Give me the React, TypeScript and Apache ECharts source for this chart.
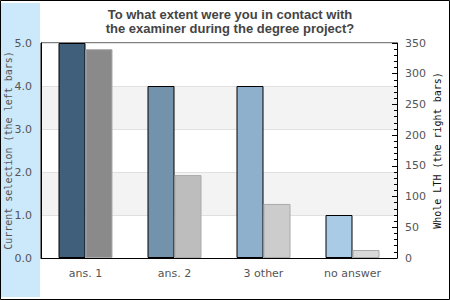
import React, { useEffect, useRef } from "react";
import * as echarts from "echarts";

const categories = ["ans. 1", "ans. 2", "3 other", "no answer"];
const currentValues = [5, 4, 4, 1];
const wholeValues = [340, 135, 88, 13];
const leftColors = ["#3f5f7a", "#7393ad", "#8fb0cc", "#a9cbe6"];
const rightColors = ["#8a8a8a", "#bdbdbd", "#cccccc", "#d9d9d9"];
const titleText = "To what extent were you in contact with\nthe examiner during the degree project?";
const leftAxisName = "Current selection (the left bars)";
const rightAxisName = "Whole LTH (the right bars)";

export default function App() {
  const ref = useRef<HTMLDivElement>(null);
  useEffect(() => {
    if (!ref.current) return;
    const chart = echarts.init(ref.current, null, { renderer: "svg" });
    const font = "DejaVu Sans";
    chart.setOption({
      animation: false,
      backgroundColor: "#ffffff",
      title: {
        text: titleText,
        left: 225,
        textAlign: "center",
        top: 2,
        textStyle: { fontFamily: "Liberation Sans", fontWeight: "bold", fontSize: 13, color: "#444", lineHeight: 14.5 },
      },
      graphic: [
        { type: "rect", shape: { x: 1, y: 3, width: 39, height: 294 }, style: { fill: "#cce8fb" }, z: -10 },
        { type: "rect", shape: { x: 0.5, y: 0.5, width: 449, height: 299 }, style: { fill: "none", stroke: "#000", lineWidth: 1 }, z: 100 },
      ],
      grid: {
        left: 41, right: 53, top: 43, bottom: 42,
        outerBoundsMode: "none", containLabel: false,
        show: true, borderColor: "#000", borderWidth: 1, backgroundColor: "#fff",
      },
      xAxis: {
        type: "category",
        data: categories,
        axisLine: { show: true, lineStyle: { color: "#000" } },
        axisTick: { show: false },
        axisLabel: { color: "#555", fontFamily: font, fontSize: 11, margin: 10 },
      },
      yAxis: [
        {
          type: "value",
          min: 0,
          max: 5,
          interval: 1,
          position: "left",
          name: leftAxisName,
          nameLocation: "middle",
          nameRotate: 90,
          nameGap: 28,
          nameMoveOverlap: false,
          nameTextStyle: { fontFamily: "DejaVu Sans Mono", fontSize: 10, color: "#555" },
          axisLine: { show: true, lineStyle: { color: "#000" } },
          axisTick: { show: false },
          axisLabel: { color: "#555", fontFamily: font, fontSize: 11, margin: 9, formatter: (v: number) => v.toFixed(1) },
          splitLine: { show: true, lineStyle: { color: "#e0e0e0" } },
          splitArea: { show: true, areaStyle: { color: ["#ffffff", "#f3f3f3"] } },
        },
        {
          type: "value",
          min: 0,
          max: 350,
          interval: 50,
          position: "right",
          name: rightAxisName,
          nameLocation: "middle",
          nameRotate: 90,
          nameGap: 35,
          nameMoveOverlap: false,
          nameTextStyle: { fontFamily: "DejaVu Sans Mono", fontSize: 10, color: "#111" },
          axisLine: { show: true, lineStyle: { color: "#000" } },
          axisTick: { show: true, inside: true, length: 5, lineStyle: { color: "#000" } },
          minorTick: { show: true, splitNumber: 5, length: 3, lineStyle: { color: "#000" } },
          axisLabel: { color: "#555", fontFamily: font, fontSize: 11, margin: 8 },
          splitLine: { show: false },
        },
      ],
      series: [
        {
          type: "bar",
          yAxisIndex: 0,
          barWidth: 27,
          barGap: "0%",
          data: currentValues.map((v, i) => ({ value: v, itemStyle: { color: leftColors[i] } })),
          itemStyle: { borderColor: "#000", borderWidth: 1 },
        },
        {
          type: "bar",
          yAxisIndex: 1,
          barWidth: 27,
          barGap: "0%",
          data: wholeValues.map((v, i) => ({ value: v, itemStyle: { color: rightColors[i] } })),
          itemStyle: { borderColor: "#aaaaaa", borderWidth: 1 },
        },
      ],
    });
    return () => chart.dispose();
  }, []);
  return <div ref={ref} style={{ position: "fixed", left: 0, top: 0, width: 450, height: 300 }} />;
}
